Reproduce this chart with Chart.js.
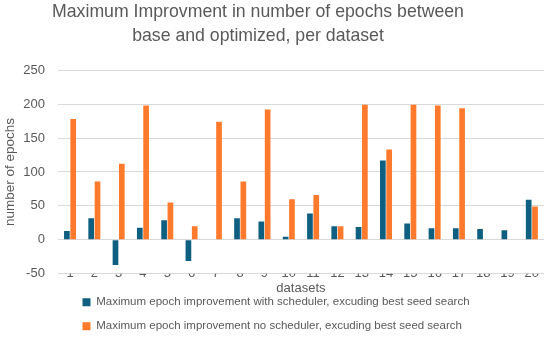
<!DOCTYPE html>
<html>
<head>
<meta charset="utf-8">
<script src="https://cdn.jsdelivr.net/npm/chart.js@4"></script>
<style>
html,body{margin:0;padding:0;background:#fff;}
#wrap{width:550px;height:338px;}
</style>
</head>
<body>
<div id="wrap"><canvas id="c" width="550" height="338"></canvas></div>
<script>
const categories = ['1','2','3','4','5','6','7','8','9','10','11','12','13','14','15','16','17','18','19','20'];
const withScheduler = [13, 32, -37, 18, 29, -31, 0, 32, 27, 4.5, 39, 20, 19, 117, 24, 17, 17, 16, 14, 59];
const noScheduler = [178, 86, 112, 198, 55, 20, 174, 86, 192, 60, 66, 20, 199, 133, 199, 198, 194, 0, 0, 49];
const seriesNames = ['Maximum epoch improvement with scheduler, excuding best seed search',
                     'Maximum epoch improvement no scheduler, excuding best seed search'];
const titleLines = ['Maximum Improvment in number of epochs between', 'base and optimized, per dataset'];

const FONT = "'Liberation Sans', Arial, sans-serif";
const GREY = '#595959';

const shiftPlugin = {
  id: 'shift',
  beforeDraw(chart) {
    if (chart.legend) {
      const w = chart.legend.right - chart.legend.left;
      const h = chart.legend.bottom - chart.legend.top;
      chart.legend.left = 70;
      chart.legend.right = 70 + w;
      chart.legend.top = 284;
      chart.legend.bottom = 284 + h;
    }
    if (chart.titleBlock) {
      const w = chart.titleBlock.right - chart.titleBlock.left;
      chart.titleBlock.left = -13;
      chart.titleBlock.right = -13 + w;
    }
  }
};

new Chart(document.getElementById('c'), {
  type: 'bar',
  data: {
    labels: categories,
    datasets: [
      { label: seriesNames[0], data: withScheduler, backgroundColor: '#0F5F80',
        categoryPercentage: 0.52, barPercentage: 0.9 },
      { label: seriesNames[1], data: noScheduler, backgroundColor: '#FF7A2C',
        categoryPercentage: 0.52, barPercentage: 0.9 }
    ]
  },
  options: {
    responsive: false,
    animation: false,
    layout: { padding: { left: 2, right: 6, top: 0, bottom: -16 } },
    plugins: {
      title: {
        display: true, text: titleLines, color: GREY,
        font: { family: FONT, size: 17.7, weight: 'normal', lineHeight: 1.36 },
        padding: { top: 0, bottom: 22 }
      },
      legend: {
        display: true, position: 'bottom', align: 'start',
        labels: {
          color: GREY, boxWidth: 8, boxHeight: 8,
          font: { family: FONT, size: 11.5 },
          padding: 12.5
        }
      },
      tooltip: { enabled: false }
    },
    scales: {
      x: {
        grid: { display: false, drawTicks: false },
        border: { display: false },
        ticks: { color: GREY, font: { family: FONT, size: 13 }, padding: -8, maxRotation: 0, autoSkip: false },
        title: { display: true, text: 'datasets', color: GREY, font: { family: FONT, size: 13 }, padding: { top: 7, bottom: 0 } }
      },
      y: {
        min: -50, max: 250,
        grid: { color: '#D9D9D9', drawTicks: false, lineWidth: 1 },
        border: { display: false },
        ticks: { stepSize: 50, color: GREY, font: { family: FONT, size: 13 }, padding: 13 },
        title: { display: true, text: 'number of epochs', color: GREY, font: { family: FONT, size: 13.5 }, padding: { top: 0, bottom: -8 } }
      }
    }
  },
  plugins: [shiftPlugin]
});
</script>
</body>
</html>
